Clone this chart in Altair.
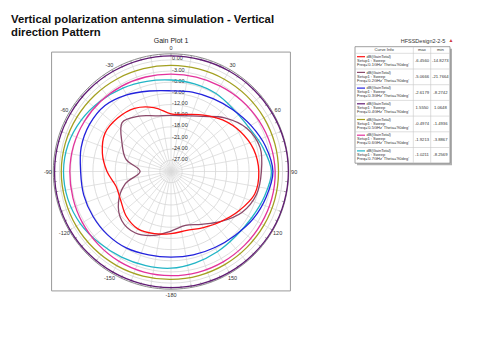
import altair as alt
import pandas as pd

# ---------------- data ----------------
angles = [-180, -165, -150, -135, -120, -105, -90, -75, -60, -45, -30, -15,
          0, 15, 30, 45, 60, 75, 90, 105, 120, 135, 150, 165]

freqs = ["0.1GHz", "0.2GHz", "0.3GHz", "0.4GHz", "0.5GHz", "0.6GHz", "0.7GHz"]
colors = ["#ff1010", "#8b4a6b", "#2222dd", "#611c74", "#a3a020", "#e3339c", "#22b5c6"]

g01 = [-13.3, -12.7, -12.2, -13.0, -14.4, -14.7, -12.8, -10.9, -9.5, -9.7, -10.4, -12.2,
       -14.5, -14.1, -12.5, -10.4, -8.5, -7.0, -6.4, -6.7, -8.9, -11.0, -12.6, -13.6]
g02 = [-14.0, -12.2, -10.9, -11.3, -13.7, -17.3, -21.7, -17.5, -14.8, -11.4, -12.8, -14.5,
       -14.9, -14.5, -12.9, -9.6, -6.6, -5.2, -5.7, -6.2, -8.0, -11.0, -13.6, -15.0]
g03 = [-7.0, -6.8, -6.2, -5.9, -5.8, -5.7, -5.7, -5.0, -4.7, -4.9, -6.2, -7.6,
       -8.3, -7.9, -7.4, -6.5, -5.2, -3.7, -2.6, -3.5, -4.5, -5.7, -6.4, -6.8]
g04 = [1.2, 1.2, 1.25, 1.3, 1.35, 1.35, 1.3, 1.25, 1.2, 1.15, 1.1, 1.08,
       1.07, 1.1, 1.2, 1.3, 1.4, 1.5, 1.55, 1.5, 1.45, 1.35, 1.3, 1.25]
g05 = [-1.0, -0.9, -0.8, -0.7, -0.6, -0.55, -0.5, -0.6, -0.8, -1.0, -1.2, -1.4,
       -1.49, -1.45, -1.35, -1.25, -1.15, -1.1, -1.1, -1.1, -1.15, -1.15, -1.1, -1.05]
g06 = [-2.0, -2.0, -2.1, -2.3, -2.5, -2.7, -2.8, -2.9, -3.1, -3.3, -3.5, -3.7,
       -3.85, -3.75, -3.5, -3.1, -2.7, -2.3, -2.0, -1.95, -2.0, -2.0, -1.95, -1.95]
g07 = [-4.0, -3.8, -3.4, -2.8, -1.9, -1.3, -1.1, -1.4, -2.2, -3.2, -4.1, -4.9,
       -5.4, -5.6, -5.8, -6.3, -6.0, -4.5, -3.0, -4.0, -5.0, -5.4, -5.1, -4.6]
series = [g01, g02, g03, g04, g05, g06, g07]

max_vals = ["-6.4560", "-5.0666", "-2.6179", "1.5550", "-0.4974", "-1.9213", "-1.0211"]
min_vals = ["-14.8273", "-21.7664", "-8.2742", "1.0648", "-1.4936", "-3.8867", "-8.2569"]

grid_levels = [-27, -24, -21, -18, -15, -12, -9, -6, -3, 0]
grid_labels = ["-27.00", "-24.00", "-21.00", "-18.00", "-15.00", "-12.00", "-9.00", "-6.00", "-3.00", "0.00"]
angle_ticks = [0, 30, 60, 90, 120, 150, 180, -150, -120, -90, -60, -30]
angle_tick_labels = ["0", "30", "60", "90", "120", "150", "-180", "-150", "-120", "-90", "-60", "-30"]

title_lines = ["Vertical polarization antenna simulation - Vertical", "direction Pattern"]
plot_title = "Gain Plot 1"
design_name = "HFSSDesign2-2-5"

# ---------------- geometry ----------------
W, H = 464, 344
PX = 3.72          # pixels per dB
CX, CY = 163.0, 163.5
RMIN = -30.0       # dB at centre
RIM = 31.64        # rim radius (dB units from centre)
FONT = "Liberation Sans"

xs = alt.Scale(domain=[-CX / PX, (W - CX) / PX], nice=False, zero=False)
ys = alt.Scale(domain=[-(H - CY) / PX, CY / PX], nice=False, zero=False)
X = lambda f: alt.X(f, scale=xs, axis=None)
Y = lambda f: alt.Y(f, scale=ys, axis=None)
X2 = lambda f: alt.X2(f)
Y2 = lambda f: alt.Y2(f)

layers = []

# frame
frame = pd.DataFrame({"a": [-32.1], "b": [32.1]})
layers.append(alt.Chart(frame).mark_rect(fill="white", stroke="#9a9a9a", strokeWidth=1).encode(
    x=X("a:Q"), x2=X2("b"), y=Y("a:Q"), y2=Y2("b")))

# spokes
spk = pd.DataFrame({"a": list(range(0, 360, 10))})
layers.append(alt.Chart(spk).transform_calculate(
    x0="0", y0="0",
    x1=f"{RIM}*sin(datum.a*PI/180)", y1=f"{RIM}*cos(datum.a*PI/180)"
).mark_rule(color="#dadada", strokeWidth=0.8).encode(
    x=X("x0:Q"), y=Y("y0:Q"), x2=X2("x1:Q"), y2=Y2("y1:Q")))

# grid circles
circ_rows = [{"lev": L, "a": a} for L in grid_levels for a in range(0, 360, 5)]
circ = pd.DataFrame(circ_rows)
layers.append(alt.Chart(circ).transform_calculate(
    r=f"datum.lev - ({RMIN})"
).transform_calculate(
    px="datum.r*sin(datum.a*PI/180)", py="datum.r*cos(datum.a*PI/180)"
).mark_line(interpolate="linear-closed", color="#d6d6d6", strokeWidth=0.8).encode(
    x=X("px:Q"), y=Y("py:Q"), detail="lev:N", order="a:Q"))

# rim circle
rim = pd.DataFrame({"a": list(range(0, 360, 3))})
layers.append(alt.Chart(rim).transform_calculate(
    px=f"{RIM}*sin(datum.a*PI/180)", py=f"{RIM}*cos(datum.a*PI/180)"
).mark_line(interpolate="linear-closed", color="#8c8c8c", strokeWidth=1).encode(
    x=X("px:Q"), y=Y("py:Q"), order="a:Q"))

# rim ticks
tk = pd.DataFrame({"a": list(range(0, 360, 5))})
layers.append(alt.Chart(tk).transform_calculate(
    x0=f"{RIM}*sin(datum.a*PI/180)", y0=f"{RIM}*cos(datum.a*PI/180)",
    x1=f"{RIM-0.8}*sin(datum.a*PI/180)", y1=f"{RIM-0.8}*cos(datum.a*PI/180)"
).mark_rule(color="#8c8c8c", strokeWidth=0.7).encode(
    x=X("x0:Q"), y=Y("y0:Q"), x2=X2("x1:Q"), y2=Y2("y1:Q")))

# radial labels
rl = pd.DataFrame({"lev": grid_levels, "txt": grid_labels})
layers.append(alt.Chart(rl).transform_calculate(
    px="0.3", py=f"datum.lev - ({RMIN})"
).mark_text(align="left", baseline="alphabetic", font=FONT, fontSize=5.5, color="#333333", dy=0.5).encode(
    x=X("px:Q"), y=Y("py:Q"), text="txt:N"))

# angle labels
al = pd.DataFrame({"a": angle_ticks, "txt": angle_tick_labels})
layers.append(alt.Chart(al).transform_calculate(
    px="33.1*sin(datum.a*PI/180)", py="33.1*cos(datum.a*PI/180)"
).mark_text(align="center", baseline="middle", font=FONT, fontSize=5.5, color="#333333").encode(
    x=X("px:Q"), y=Y("py:Q"), text="txt:N"))

# curves (last frequency drawn first so 0.1GHz is on top)
for f, vals, col in reversed(list(zip(freqs, series, colors))):
    df = pd.DataFrame({"theta": angles, "db": vals})
    layers.append(alt.Chart(df).transform_calculate(
        r=f"datum.db - ({RMIN})"
    ).transform_calculate(
        px="datum.r*sin(datum.theta*PI/180)", py="datum.r*cos(datum.theta*PI/180)"
    ).mark_line(interpolate="cardinal-closed", color=col, strokeWidth=1.3).encode(
        x=X("px:Q"), y=Y("py:Q"), order="theta:Q"))

# ---------------- texts (pixel positions) ----------------
def px(f):
    return alt.X(f, scale=None, axis=None)
def py(f):
    return alt.Y(f, scale=None, axis=None)

tl = pd.DataFrame({"i": [0, 1], "txt": title_lines})
layers.append(alt.Chart(tl).transform_calculate(
    x="3", y="14.6 + datum.i*13.3"
).mark_text(align="left", baseline="alphabetic", font=FONT, fontSize=11.3, fontWeight="bold", color="#111111").encode(
    x=px("x:Q"), y=py("y:Q"), text="txt:N"))

pt = pd.DataFrame({"txt": [plot_title]})
layers.append(alt.Chart(pt).transform_calculate(x="163", y="33").mark_text(
    align="center", baseline="middle", font=FONT, fontSize=7, color="#222222").encode(
    x=px("x:Q"), y=py("y:Q"), text="txt:N"))

dn = pd.DataFrame({"txt": [design_name]})
layers.append(alt.Chart(dn).transform_calculate(x="415", y="32.5").mark_text(
    align="center", baseline="middle", font=FONT, fontSize=5.5, color="#333333").encode(
    x=px("x:Q"), y=py("y:Q"), text="txt:N"))
layers.append(alt.Chart(pd.DataFrame({"txt": ["▲"]})).transform_calculate(x="443", y="32").mark_text(
    align="center", baseline="middle", fontSize=5, color="#d04040").encode(
    x=px("x:Q"), y=py("y:Q"), text="txt:N"))

# ---------------- legend table ----------------
TL, TR, TT, THB, RH = 347.0, 442.0, 38.7, 45.3, 15.7
C1, C2 = 405.3, 422.7
TB = THB + 7 * RH

box = pd.DataFrame({"x": [TL], "x2": [TR], "y": [TT], "y2": [TB]})
layers.append(alt.Chart(box).transform_calculate(
    sx="datum.x + 2", sx2="datum.x2 + 2", sy="datum.y + 2", sy2="datum.y2 + 2"
).mark_rect(fill="#b0b0b0").encode(x=px("sx:Q"), x2=alt.X2("sx2:Q"), y=py("sy:Q"), y2=alt.Y2("sy2:Q")))
layers.append(alt.Chart(box).mark_rect(fill="white", stroke="#888888", strokeWidth=0.8).encode(
    x=px("x:Q"), x2=alt.X2("x2:Q"), y=py("y:Q"), y2=alt.Y2("y2:Q")))

# row dividers
rows = pd.DataFrame({"i": list(range(0, 7))})
layers.append(alt.Chart(rows).transform_calculate(
    x0=f"{TL}", x1=f"{TR}", yy=f"{THB} + datum.i*{RH}"
).mark_rule(color="#c8c8c8", strokeWidth=0.6).encode(
    x=px("x0:Q"), x2=alt.X2("x1:Q"), y=py("yy:Q")))
cols = pd.DataFrame({"x": [C1, C2]})
layers.append(alt.Chart(cols).transform_calculate(y0=f"{TT}", y1=f"{TB}").mark_rule(
    color="#c8c8c8", strokeWidth=0.6).encode(x=px("x:Q"), y=py("y0:Q"), y2=alt.Y2("y1:Q")))

hdr = pd.DataFrame({"txt": ["Curve Info", "max", "min"], "x": [(TL + C1) / 2, (C1 + C2) / 2, (C2 + TR) / 2]})
layers.append(alt.Chart(hdr).transform_calculate(y=f"{(TT + THB) / 2}").mark_text(
    align="center", baseline="middle", font=FONT, fontSize=4.2, color="#333333").encode(
    x=px("x:Q"), y=py("y:Q"), text="txt:N"))

leg = pd.DataFrame({"i": list(range(7)), "freq": freqs, "mx": max_vals, "mn": min_vals})
leg_base = alt.Chart(leg).transform_calculate(
    top=f"{THB} + datum.i*{RH}",
    l1="'dB(GainTotal)'", l2="'Setup1 : Sweep'",
    l3="\"Freq='\" + datum.freq + \"' Theta='90deg'\""
)
# sample lines
layers.append(leg_base.transform_calculate(
    xa=f"{TL + 2}", xb=f"{TL + 10}", yl="datum.top + 3.4"
).mark_rule(strokeWidth=1.2).encode(
    x=px("xa:Q"), x2=alt.X2("xb:Q"), y=py("yl:Q"),
    color=alt.Color("freq:N", scale=alt.Scale(domain=freqs, range=colors), legend=None)))
for k, (field, xo, yo) in enumerate([("l1", TL + 11.5, 3.6), ("l2", TL + 2, 7.6), ("l3", TL + 2, 11.6)]):
    layers.append(leg_base.transform_calculate(
        xt=f"{xo}", yt=f"datum.top + {yo}"
    ).mark_text(align="left", baseline="middle", font=FONT, fontSize=4.0, color="#333333").encode(
        x=px("xt:Q"), y=py("yt:Q"), text=f"{field}:N"))
layers.append(leg_base.transform_calculate(
    xt=f"{(C1 + C2) / 2}", yt=f"datum.top + {RH / 2}"
).mark_text(align="center", baseline="middle", font=FONT, fontSize=4.2, color="#333333").encode(
    x=px("xt:Q"), y=py("yt:Q"), text="mx:N"))
layers.append(leg_base.transform_calculate(
    xt=f"{(C2 + TR) / 2}", yt=f"datum.top + {RH / 2}"
).mark_text(align="center", baseline="middle", font=FONT, fontSize=4.2, color="#333333").encode(
    x=px("xt:Q"), y=py("yt:Q"), text="mn:N"))

chart = alt.layer(*layers).properties(
    width=W, height=H, padding=0, autosize=alt.AutoSizeParams(type="none"),
    background="white"
).configure_view(stroke=None)

chart.save("out.html", embed_options={"renderer": "svg", "actions": False})
